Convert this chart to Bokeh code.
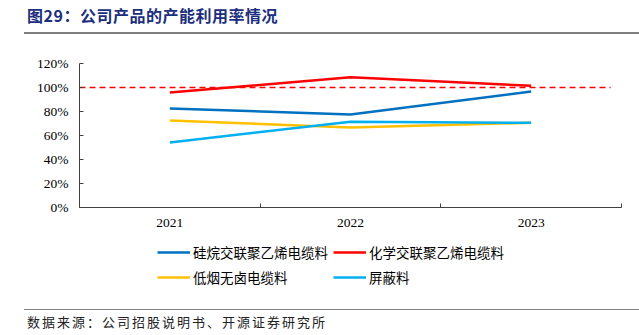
from bokeh.plotting import figure
from bokeh.models import (Range1d, FixedTicker, NumeralTickFormatter, Legend, LegendItem, Div)
from bokeh.layouts import column
from bokeh.embed import file_html
from bokeh.resources import INLINE

title_text = "图29：公司产品的产能利用率情况"
source_text = "数据来源：公司招股说明书、开源证券研究所"
years = ["2021", "2022", "2023"]
series_names = ["硅烷交联聚乙烯电缆料", "化学交联聚乙烯电缆料", "低烟无卤电缆料", "屏蔽料"]
silane = [0.825, 0.775, 0.967]
chem = [0.958, 1.086, 1.014]
lsoh = [0.725, 0.667, 0.706]
shield = [0.542, 0.714, 0.706]
reference_level = 1.0
colors = ["#0070C0", "#FF0000", "#FFC000", "#00B0F0"]

xs = [i + 0.5 for i in range(len(years))]

title_div = Div(text=title_text, width=615, height=34, margin=(0, 0, 0, 24),
                styles={"font-family": "Noto Sans CJK SC",
                        "font-size": "16px", "font-weight": "bold", "color": "#1B2F7E",
                        "border-bottom": "2px solid #7F7F7F", "box-sizing": "border-box",
                        "padding-top": "5px", "padding-left": "3px", "letter-spacing": "0.5px",
                        "line-height": "20px"})

p = figure(output_backend="svg", toolbar_location=None,
           x_range=Range1d(0, 3), y_range=Range1d(0, 1.2),
           frame_width=542, frame_height=144,
           min_border_left=79, min_border_right=18, min_border_top=29, min_border_bottom=28)
p.outline_line_color = None
p.xgrid.visible = False
p.ygrid.visible = False
p.background_fill_color = None
p.border_fill_color = None

# x axis
p.xaxis.ticker = FixedTicker(ticks=xs, minor_ticks=[0, 1, 2, 3])
p.xaxis.major_label_overrides = {x: y for x, y in zip(xs, years)}
p.xaxis.major_tick_in = 0
p.xaxis.major_tick_out = 0
p.xaxis.minor_tick_in = 4
p.xaxis.minor_tick_out = 0
p.xaxis.minor_tick_line_color = "#404040"
p.xaxis.axis_line_color = "#404040"
p.xaxis.major_label_standoff = 11
p.xaxis.major_label_text_font = "Liberation Serif"
p.xaxis.major_label_text_font_size = "13.5px"
p.xaxis.major_label_text_color = "#000000"

# y axis
p.yaxis.ticker = FixedTicker(ticks=[0, 0.2, 0.4, 0.6, 0.8, 1.0, 1.2], minor_ticks=[])
p.yaxis.formatter = NumeralTickFormatter(format="0%")
p.yaxis.major_tick_in = 4
p.yaxis.major_tick_out = 0
p.yaxis.major_tick_line_color = "#404040"
p.yaxis.axis_line_color = "#404040"
p.yaxis.major_label_standoff = 11
p.yaxis.major_label_text_font = "Liberation Serif"
p.yaxis.major_label_text_font_size = "13.5px"
p.yaxis.major_label_text_color = "#000000"

# reference line
p.line(x=[0, 2.94], y=[reference_level, reference_level], line_color="#FF0000",
       line_width=1.5, line_dash="6 4")

for vals, c in zip([silane, chem, lsoh, shield], colors):
    p.line(x=xs, y=vals, line_color=c, line_width=2.5)

# legend panel: same series drawn out of view, legend placed in its frame
lp = figure(output_backend="svg", toolbar_location=None,
            x_range=Range1d(0, 3), y_range=Range1d(5, 6),
            frame_width=639, frame_height=70,
            min_border_left=0, min_border_right=0, min_border_top=0, min_border_bottom=0)
lp.axis.visible = False
lp.grid.visible = False
lp.outline_line_color = None
lp.background_fill_color = None
lp.border_fill_color = None
lrs = []
for vals, c in zip([silane, chem, lsoh, shield], colors):
    lrs.append(lp.line(x=xs, y=vals, line_color=c, line_width=2.5))

items = [LegendItem(label=n, renderers=[r]) for n, r in zip(series_names, lrs)]
# column-major fill: column 1 = items 0, 2 ; column 2 = items 1, 3
items = [items[0], items[2], items[1], items[3]]
legend = Legend(items=items, ncols=2, location=(157, 18))
legend.glyph_width = 33
legend.glyph_height = 20
legend.label_height = 20
legend.label_standoff = 3
legend.spacing = 5
legend.padding = 0
legend.margin = 0
legend.border_line_color = None
legend.background_fill_color = None
legend.label_text_font = "Noto Sans CJK SC"
legend.label_text_font_size = "13.5px"
legend.label_text_color = "#000000"
lp.add_layout(legend, "center")

footer_div = Div(text=source_text, width=615, height=28, margin=(4, 0, 0, 24),
                 styles={"font-family": "Noto Sans CJK SC",
                         "font-size": "13px", "color": "#222222",
                         "border-top": "1.5px solid #7F7F7F", "box-sizing": "border-box",
                         "padding-top": "4px", "padding-left": "3px", "letter-spacing": "2px",
                         "line-height": "16px"})

layout = column(title_div, p, lp, footer_div, spacing=0)
open("out.html", "w").write(file_html(layout, INLINE))
